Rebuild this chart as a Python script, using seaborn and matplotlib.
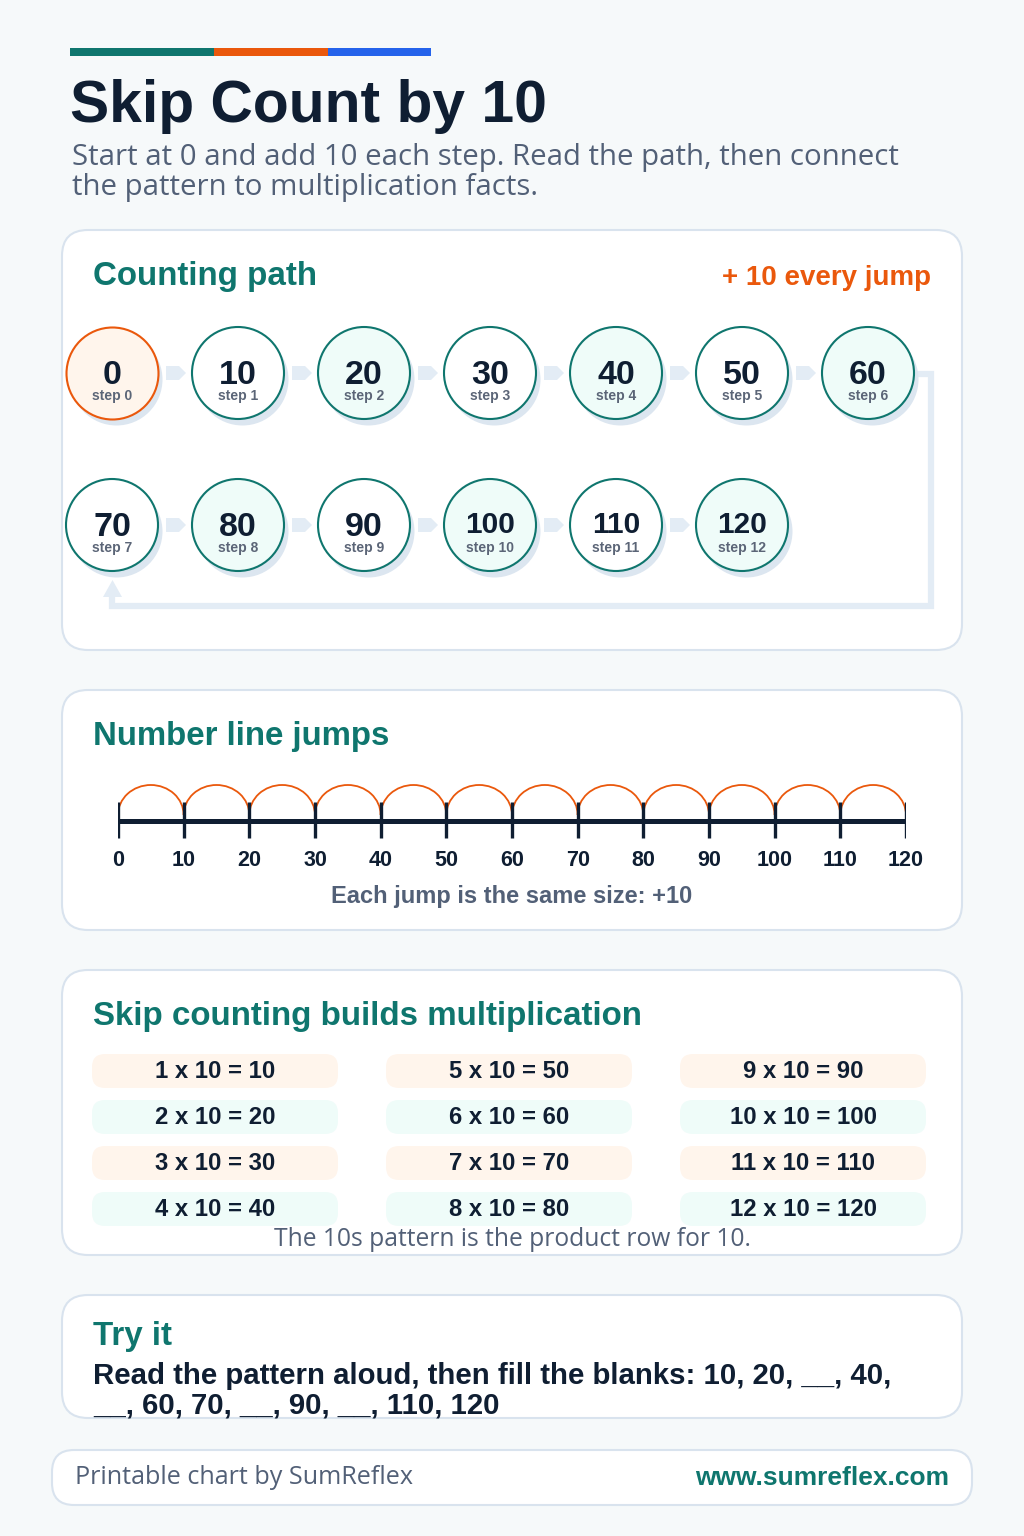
import matplotlib
matplotlib.use("Agg")
import matplotlib.pyplot as plt
from matplotlib.patches import FancyBboxPatch, Arc, Polygon, Rectangle
import numpy as np
import pandas as pd
import seaborn as sns

# ---- chart data ----
path_values = [0, 10, 20, 30, 40, 50, 60, 70, 80, 90, 100, 110, 120]
step_labels = [f"step {i}" for i in range(len(path_values))]
line_ticks = [0, 10, 20, 30, 40, 50, 60, 70, 80, 90, 100, 110, 120]
fact_factors = [1, 2, 3, 4, 5, 6, 7, 8, 9, 10, 11, 12]
fact_products = [10, 20, 30, 40, 50, 60, 70, 80, 90, 100, 110, 120]
try_sequence = ["10", "20", "__", "40", "__", "60", "70", "__", "90", "__", "110", "120"]

# ---- colours ----
TEAL = "#0f766e"
ORANGE = "#ea580c"
BLUE = "#2563eb"
NAVY = "#0f1e32"
SLATE = "#526077"
BG = "#f6f9fa"
CARD_EDGE = "#d9e3ee"
TINT_ORANGE = "#fff5ec"
TINT_TEAL = "#effcf9"
SHADOW = "#dce6f0"
CONNECT = "#e3ecf5"

sns.set_theme(style="white")
plt.rcParams["font.family"] = ["Liberation Sans", "DejaVu Sans"]
SOFT = ["Open Sans", "DejaVu Sans"]

fig = plt.figure(figsize=(10.24, 15.36), dpi=100, facecolor=BG)
ax = fig.add_axes([0, 0, 1, 1])
ax.set_facecolor(BG)


def card(x0, y0, x1, y1, r=26):
    ax.add_patch(FancyBboxPatch((x0, y0), x1 - x0, y1 - y0,
                                boxstyle=f"round,pad=0,rounding_size={r}",
                                fc="white", ec=CARD_EDGE, lw=1.5, zorder=1))


# ---- header ----
ax.add_patch(Rectangle((70, 48), 144, 8, color=TEAL, lw=0))
ax.add_patch(Rectangle((214, 48), 114, 8, color=ORANGE, lw=0))
ax.add_patch(Rectangle((328, 48), 103, 8, color=BLUE, lw=0))
ax.text(70, 106, "Skip Count by 10", fontsize=42.3, weight="bold", color=NAVY,
        va="center", ha="left")
ax.text(72, 158, "Start at 0 and add 10 each step. Read the path, then connect",
        fontsize=21.2, color=SLATE, va="center", family=SOFT)
ax.text(72, 188, "the pattern to multiplication facts.",
        fontsize=21.2, color=SLATE, va="center", family=SOFT)

# ---- card 1: counting path ----
card(62, 230, 962, 650)
ax.text(93, 277, "Counting path", fontsize=23.9, weight="bold", color=TEAL, va="center")
ax.text(931, 278, "+ 10 every jump", fontsize=20, weight="bold", color=ORANGE,
        va="center", ha="right")

df = pd.DataFrame({"value": path_values, "step": range(len(path_values))})
df["col"] = df["step"] % 7
df["row"] = df["step"] // 7
df["px"] = 112 + 126 * df["col"]
df["py"] = 373 + 152 * df["row"]
df["kind"] = np.where(df["step"] == 0, "start",
                      np.where(df["step"] % 2 == 0, "even", "odd"))

# connector from 60 down and back to 70
ax.plot([914, 931, 931, 112, 112], [374, 374, 606, 606, 594], color=CONNECT,
        lw=4.5, solid_joinstyle="miter", zorder=2)
ax.add_patch(Polygon([[103, 597], [122, 597], [112.5, 580]], closed=True,
                     color=CONNECT, lw=0, zorder=2))

# little arrows between neighbours in the same row
for _, r in df.iterrows():
    if r["col"] < 6 and r["step"] + 1 < len(df):
        x0 = r["px"] + 54
        yc = r["py"]
        ax.add_patch(Polygon([[x0, yc - 7], [x0 + 13, yc - 7], [x0 + 20, yc],
                              [x0 + 13, yc + 7], [x0, yc + 7]], closed=True,
                             color=CONNECT, lw=0, zorder=2))

S = (92 * 0.72) ** 2
sns.scatterplot(x=df["px"] + 4, y=df["py"] + 6, color=SHADOW, s=S, linewidth=0,
                ax=ax, legend=False, zorder=3)
sns.scatterplot(data=df[df["kind"] != "start"], x="px", y="py", hue="kind",
                palette={"even": TINT_TEAL, "odd": "white"}, s=S,
                edgecolor=TEAL, linewidth=1.5, ax=ax, legend=False, zorder=4)
sns.scatterplot(data=df[df["kind"] == "start"], x="px", y="py", color=TINT_ORANGE,
                s=S, edgecolor=ORANGE, linewidth=1.5, ax=ax, legend=False, zorder=4)

for _, r in df.iterrows():
    big = r["value"] < 100
    ax.text(r["px"], r["py"] + (2 if big else 0), str(r["value"]),
            fontsize=24.5 if big else 21.5, weight="bold", color=NAVY,
            ha="center", va="center", zorder=5)
    ax.text(r["px"], r["py"] + 23, step_labels[r["step"]], fontsize=10,
            weight="bold", color="#5b6577", ha="center", va="center", zorder=5)

# ---- card 2: number line ----
card(62, 690, 962, 930)
ax.text(93, 736, "Number line jumps", fontsize=23.8, weight="bold", color=TEAL, va="center")
ax.text(512, 896, "Each jump is the same size: +10", fontsize=17, weight="bold",
        color=SLATE, ha="center", va="center")

ax2 = fig.add_axes([118 / 1024, (1536 - 880) / 1536, (906 - 118) / 1024, 110 / 1536])
ax2.set_xlim(line_ticks[0], line_ticks[-1])
ax2.set_ylim(880, 770)
ax2.axis("off")
ax2.patch.set_alpha(0)
sns.lineplot(x=[line_ticks[0], line_ticks[-1]], y=[821, 821], color=NAVY, lw=3.6,
             ax=ax2, solid_capstyle="butt")
ax2.vlines(line_ticks, 802, 838, color=NAVY, lw=2.4)
for a, b in zip(line_ticks[:-1], line_ticks[1:]):
    ax2.add_patch(Arc(((a + b) / 2, 815), b - a, 60, theta1=180, theta2=360,
                      color=ORANGE, lw=1.3))
for v in line_ticks:
    ax2.text(v, 860, str(v), fontsize=15.5, weight="bold", color=NAVY,
             ha="center", va="center")

# ---- card 3: multiplication facts ----
card(62, 970, 962, 1255)
ax.text(93, 1017, "Skip counting builds multiplication", fontsize=23.9, weight="bold",
        color=TEAL, va="center")
for n, p in zip(fact_factors, fact_products):
    col = (n - 1) // 4
    row = (n - 1) % 4
    x0 = 92 + 294 * col
    yc = 1071 + 46 * row
    ax.add_patch(FancyBboxPatch((x0, yc - 17), 246, 34,
                                boxstyle="round,pad=0,rounding_size=13",
                                fc=TINT_ORANGE if row % 2 == 0 else TINT_TEAL,
                                lw=0, zorder=2))
    ax.text(x0 + 123, yc, f"{n} x 10 = {p}", fontsize=17.2, weight="bold",
            color=NAVY, ha="center", va="center", zorder=3)
ax.text(512, 1240, "The 10s pattern is the product row for 10.", fontsize=17.7,
        color=SLATE, ha="center", va="center", family=SOFT)

# ---- card 4: try it ----
card(62, 1295, 962, 1418)
ax.text(93, 1336, "Try it", fontsize=23.9, weight="bold", color=TEAL, va="center")
line1 = ", ".join(try_sequence[:4]) + ","
line2 = ", ".join(try_sequence[4:])
ax.text(93, 1376, "Read the pattern aloud, then fill the blanks: " + line1,
        fontsize=21.2, weight="bold", color=NAVY, va="center")
ax.text(93, 1406, line2, fontsize=21.2, weight="bold", color=NAVY, va="center")

# ---- footer ----
card(52, 1450, 972, 1505, r=22)
ax.text(75, 1478, "Printable chart by SumReflex", fontsize=18.1, color=SLATE,
        va="center", family=SOFT)
ax.text(949, 1478, "www.sumreflex.com", fontsize=19, weight="bold", color=TEAL,
        va="center", ha="right")

ax.set_xlim(0, 1024)
ax.set_ylim(1536, 0)
ax.axis("off")

fig.savefig("out.png", dpi=100, facecolor=BG)
